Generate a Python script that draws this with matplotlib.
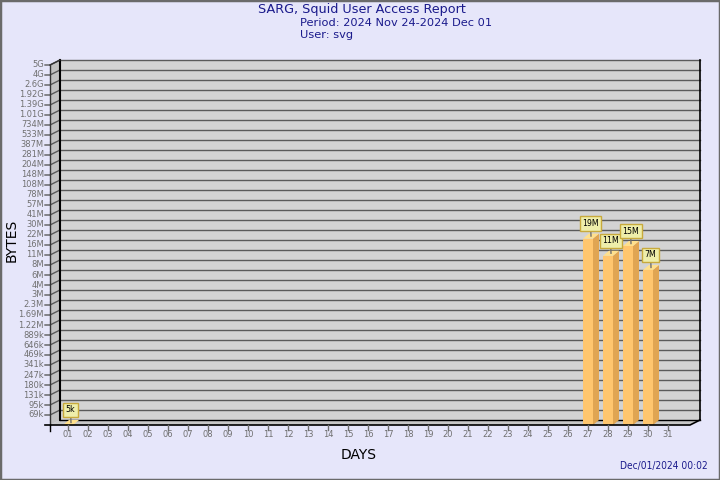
import matplotlib
matplotlib.use("Agg")
import matplotlib.pyplot as plt
from matplotlib.patches import Polygon, Rectangle
from matplotlib.lines import Line2D
from matplotlib.transforms import IdentityTransform
import numpy as np

# ---------------- data ----------------
days = [f"{d:02d}" for d in range(1, 32)]
bar_days = ["01", "27", "28", "29", "30"]
bar_bytes = [5_000, 19_000_000, 11_000_000, 15_000_000, 7_000_000]
bar_labels = ["5k", "19M", "11M", "15M", "7M"]
ytick_labels = ["69k", "95k", "131k", "180k", "247k", "341k", "469k", "646k",
                "889k", "1.22M", "1.69M", "2.3M", "3M", "4M", "6M", "8M",
                "11M", "16M", "22M", "30M", "41M", "57M", "78M", "108M",
                "148M", "204M", "281M", "387M", "533M", "734M", "1.01G",
                "1.39G", "1.92G", "2.6G", "4G", "5G"]

title = "SARG, Squid User Access Report"
period = "Period: 2024 Nov 24-2024 Dec 01"
user = "User: svg"
stamp = "Dec/01/2024 00:02"
xlabel = "DAYS"
ylabel = "BYTES"

# ---------------- style ----------------
BG = "#E6E6FA"
WALL = "#D3D3D3"
SIDE = "#C2C2C2"
FLOOR = "#C8C8C8"
GRID = "#5A5A5A"
TICKC = "#707070"
TITLEC = "#1A1A8C"
BAR_FRONT = "#FFC66E"
BAR_SIDE = "#E0A552"
BAR_TOP = "#FFE08C"
LBL_FC = "#EEEEAA"
LBL_EC = "#C8AA3C"
FONT = dict(family="DejaVu Sans", stretch="condensed")

W, H, DPI = 720, 480, 100
fig = plt.figure(figsize=(W / DPI, H / DPI), dpi=DPI, facecolor=BG)

# front plane of the 3D box
ax = fig.add_axes([50 / W, (H - 425) / H, 640 / W, 360 / H])
ax.set_axis_off()
ax.patch.set_visible(False)
ax.set_zorder(3.5)

ratio = 1.375
base = 69_000
ytick_vals = base * ratio ** np.arange(len(ytick_labels))
floor = base / ratio
top = ytick_vals[-1]
ax.set_yscale("log")
ax.set_ylim(floor, top)
x_pos = np.arange(1, len(days) + 1)
ax.set_xlim(x_pos[0] - 0.9, x_pos[-1] + 1.1)

WD = np.array([10.0, 5.0])   # wall depth offset (px)
BD = np.array([6.0, 5.0])    # bar depth offset (px)
ID = IdentityTransform()


def px(x, y, d=None):
    p = ax.transData.transform((x, y))
    if d is not None:
        p = p + d
    return p


def poly(pts, fc, ec="none", lw=0.0, z=1):
    fig.add_artist(Polygon(np.array(pts), closed=True, facecolor=fc,
                           edgecolor=ec, linewidth=lw, transform=ID,
                           zorder=z))


def line(pts, c, lw=1.0, z=2):
    pts = np.array(pts)
    fig.add_artist(Line2D(pts[:, 0], pts[:, 1], color=c, linewidth=lw,
                          transform=ID, zorder=z))


x0, x1 = ax.get_xlim()

# back wall
poly([px(x0, floor, WD), px(x1, floor, WD), px(x1, top, WD), px(x0, top, WD)],
     WALL, z=1)
# side wall
poly([px(x0, floor), px(x0, floor, WD), px(x0, top, WD), px(x0, top)],
     SIDE, z=1)
# floor
poly([px(x0, floor), px(x1, floor), px(x1, floor, WD), px(x0, floor, WD)],
     FLOOR, z=1)

# grid lines
for v, lab in zip(ytick_vals, ytick_labels):
    line([px(x0, v, WD), px(x1, v, WD)], GRID, 1.0, 2)
    line([px(x0, v) + np.array([-5, 0]), px(x0, v), px(x0, v, WD)], GRID, 1.0, 2)
    p = px(x0, v)
    fig.text(p[0] - 6, p[1], lab, ha="right", va="center", color=TICKC,
             fontsize=6.7, transform=ID, **FONT)

# box edges
line([px(x0, floor, WD), px(x0, top, WD)], "black", 1.5, 3)
line([px(x1, floor, WD), px(x1, top, WD)], "black", 1.2, 3)
line([px(x0, floor, WD), px(x1, floor, WD)], "black", 1.0, 3)
line([px(x0, floor), px(x0, top)], "#333333", 1.0, 3)
line([px(x0, top), px(x0, top, WD)], "#333333", 1.0, 3)
line([px(x0, floor) + np.array([-5, 0]), px(x1, floor), px(x1, floor, WD)],
     "black", 1.2, 6)

# x ticks and labels
line([px(x0, floor), px(x0, floor) + np.array([0, -6])], "black", 1.0, 6)
for xp, lab in zip(x_pos, days):
    p = px(xp, floor)
    line([p, p + np.array([0, -5])], TICKC, 1.0, 6)
    fig.text(p[0], p[1] - 9.5, lab, ha="center", va="center", color=TICKC,
             fontsize=6.7, transform=ID, **FONT)

# bars
half = 0.25
for dlab, v, lab in zip(bar_days, bar_bytes, bar_labels):
    xc = x_pos[days.index(dlab)]
    vt = max(v, floor)
    xl, xr = xc - half, xc + half
    if vt > floor:
        ax.bar([xc], [vt - floor], bottom=floor, width=2 * half,
               color=BAR_FRONT, linewidth=0, zorder=4, clip_on=False)
        poly([px(xr, floor), px(xr, floor, BD), px(xr, vt, BD), px(xr, vt)],
             BAR_SIDE, z=4)
    poly([px(xl, vt), px(xr, vt), px(xr, vt, BD), px(xl, vt, BD)], BAR_TOP, z=4)
    ptop = px(xc, vt) + np.array([3.0, 2.5])
    pl = px(xc, vt) + np.array([2.5, 15.0])
    line([ptop, pl], "#707070", 1.0, 5)
    fig.text(pl[0], pl[1], lab, ha="center", va="center", fontsize=6.3,
             color="black", transform=ID, zorder=7,
             bbox=dict(boxstyle="square,pad=0.3", fc=LBL_FC, ec=LBL_EC, lw=1.0),
             **FONT)

# titles
fig.text(362, H - 10, title, ha="center", va="center", color=TITLEC,
         fontsize=9.2, transform=ID)
fig.text(300, H - 22.5, period, ha="left", va="center", color=TITLEC,
         fontsize=8.2, transform=ID)
fig.text(300, H - 34.5, user, ha="left", va="center", color=TITLEC,
         fontsize=8.2, transform=ID)
fig.text(359, H - 455, xlabel, ha="center", va="center", color="black",
         fontsize=10, transform=ID)
fig.text(12, H - 240, ylabel, ha="center", va="center", color="black",
         fontsize=10, rotation=90, transform=ID)
fig.text(708, H - 466, stamp, ha="right", va="center", color=TITLEC,
         fontsize=7.3, transform=ID, **FONT)

# image border
fig.add_artist(Rectangle((0, 0), 1, 1, transform=fig.transFigure, fill=False,
                         edgecolor="#6A6A6A", linewidth=2.5, zorder=10))

fig.savefig("out.png", dpi=DPI, facecolor=BG)
